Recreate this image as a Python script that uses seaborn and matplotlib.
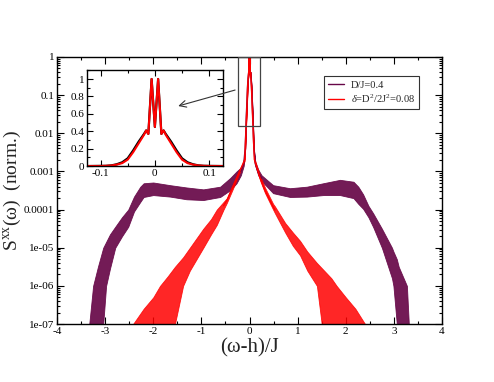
import numpy as np
import pandas as pd
import matplotlib
matplotlib.use('Agg')
import matplotlib.pyplot as plt
import seaborn as sns
from matplotlib.patches import Rectangle
from matplotlib.lines import Line2D
from matplotlib.ticker import FixedLocator, FixedFormatter, LogLocator, MultipleLocator, NullFormatter


# central peak, shared by both spectra (linear values)
peak_x = [-0.10, -0.09, -0.08, -0.07, -0.06, -0.05, -0.04, -0.03, -0.02, -0.016, -0.012, -0.006, 0.0,
          0.006, 0.012, 0.016, 0.02, 0.03, 0.04, 0.05, 0.06, 0.07, 0.08, 0.09, 0.10]
peak_red = [0.002, 0.004, 0.008, 0.018, 0.035, 0.075, 0.16, 0.26, 0.36, 0.41, 0.37, 1.0, 0.45,
            1.0, 0.37, 0.41, 0.36, 0.26, 0.16, 0.075, 0.035, 0.018, 0.008, 0.004, 0.002]
peak_black = [0.002, 0.004, 0.009, 0.022, 0.045, 0.09, 0.18, 0.28, 0.37, 0.41, 0.37, 1.0, 0.45,
              1.0, 0.37, 0.41, 0.37, 0.28, 0.18, 0.09, 0.045, 0.022, 0.009, 0.004, 0.002]

# D/J=0.4 : noise band, log10 of upper / lower edge
dj_left_x = [-3.36, -3.33, -3.25, -3.15, -3.04, -2.98, -2.90, -2.79, -2.65, -2.52, -2.40, -2.27,
             -2.20, -2.00, -1.65, -1.31, -0.96, -0.61, -0.40, -0.27, -0.18, -0.12]
dj_left_up = [-7.5, -7.0, -6.0, -5.5, -5.0, -4.85, -4.65, -4.45, -4.2, -4.0, -3.66, -3.40,
              -3.31, -3.29, -3.36, -3.42, -3.47, -3.40, -3.17, -3.00, -2.90, -2.75]
dj_left_lo = [-7.5, -7.5, -7.5, -7.5, -7.0, -6.0, -5.55, -5.0, -4.7, -4.45, -4.05, -3.80,
              -3.67, -3.62, -3.66, -3.73, -3.75, -3.67, -3.49, -3.31, -3.10, -2.85]
dj_right_x = [0.12, 0.18, 0.25, 0.49, 0.84, 1.19, 1.53, 1.88, 2.16, 2.26, 2.36, 2.47, 2.57,
              2.75, 2.96, 2.99, 3.06, 3.10, 3.27, 3.31, 3.34]
dj_right_up = [-2.75, -2.95, -3.10, -3.36, -3.44, -3.40, -3.31, -3.22, -3.27, -3.40, -3.60, -3.90, -4.10,
               -4.50, -5.0, -5.1, -5.3, -5.5, -6.0, -7.0, -7.5]
dj_right_lo = [-2.85, -3.10, -3.25, -3.57, -3.67, -3.66, -3.62, -3.62, -3.70, -3.85, -3.98, -4.20, -4.46,
               -5.0, -5.8, -6.0, -7.0, -7.5, -7.5, -7.5, -7.5]

# delta=0.08 : noise band, log10 of upper / lower edge
dl_left_x = [-2.45, -2.42, -2.20, -2.00, -1.86, -1.70, -1.55, -1.38, -1.24, -1.10, -0.96, -0.80,
             -0.68, -0.54, -0.47, -0.35, -0.23, -0.15, -0.10]
dl_left_up = [-7.5, -7.0, -6.6, -6.3, -6.0, -5.75, -5.5, -5.25, -5.0, -4.75, -4.5, -4.25,
              -4.0, -3.8, -3.7, -3.35, -3.02, -2.80, -2.65]
dl_left_lo = [-7.5, -7.5, -7.5, -7.5, -7.5, -7.5, -7.0, -6.0, -5.6, -5.3, -5.0, -4.65,
              -4.4, -4.0, -3.82, -3.47, -3.10, -2.88, -2.72]
dl_right_x = [0.10, 0.15, 0.23, 0.32, 0.49, 0.53, 0.74, 0.90, 1.05, 1.20, 1.40, 1.55, 1.70,
              1.81, 2.00, 2.20, 2.40, 2.43]
dl_right_up = [-2.65, -2.85, -3.15, -3.42, -3.85, -3.92, -4.35, -4.6, -4.82, -5.1, -5.4, -5.6, -5.8,
               -6.0, -6.3, -6.6, -7.0, -7.5]
dl_right_lo = [-2.72, -2.95, -3.27, -3.56, -4.0, -4.1, -4.6, -4.95, -5.2, -5.6, -6.0, -7.5, -7.5,
               -7.5, -7.5, -7.5, -7.5, -7.5]

labels = ['D/J=0.4', r'$\delta$=D$^2$/2J$^2$=0.08']
purple = '#670748'
red = '#ff0000'


def build(lx, lup, llo, px, pv, rx, rup, rlo):
    x = np.array(lx + px[1:-1] + rx)
    up = np.concatenate([10.0 ** np.array(lup), pv[1:-1], 10.0 ** np.array(rup)])
    lo = np.concatenate([10.0 ** np.array(llo), pv[1:-1], 10.0 ** np.array(rlo)])
    return pd.DataFrame({'x': x, 'up': up, 'lo': lo, 'mid': np.sqrt(up * lo)})


dj = build(dj_left_x, dj_left_up, dj_left_lo, peak_x, peak_black, dj_right_x, dj_right_up, dj_right_lo)
dl = build(dl_left_x, dl_left_up, dl_left_lo, peak_x, peak_red, dl_right_x, dl_right_up, dl_right_lo)
# the thin part of each curve (central peak) gets a plain line
dj_thin = dj[(dj['up'] / dj['lo'] < 1.6) & (dj['lo'] > 1e-5)]
dl_thin = dl[(dl['up'] / dl['lo'] < 1.6) & (dl['lo'] > 1e-5)]

sns.set_theme(style='ticks')
plt.rcParams['font.family'] = ['Liberation Serif', 'DejaVu Serif']
plt.rcParams['mathtext.fontset'] = 'custom'
plt.rcParams['mathtext.rm'] = 'Liberation Serif'
plt.rcParams['mathtext.it'] = 'Liberation Serif:italic'
plt.rcParams['axes.unicode_minus'] = False
plt.rcParams['axes.edgecolor'] = 'black'
plt.rcParams['xtick.color'] = 'black'
plt.rcParams['ytick.color'] = 'black'

fig = plt.figure(figsize=(4.94, 3.82), dpi=100)
ax = fig.add_axes([0.1154, 0.1518, 0.7794, 0.699])

ax.fill_between(dj['x'], dj['lo'], dj['up'], color=purple, lw=0.6, alpha=0.92)
sns.lineplot(data=dj_thin, x='x', y='mid', ax=ax, color=purple, lw=1.0, estimator=None, sort=False)
ax.fill_between(dl['x'], dl['lo'], dl['up'], color=red, lw=0.6, alpha=0.85)
sns.lineplot(data=dl_thin, x='x', y='mid', ax=ax, color=red, lw=1.0, estimator=None, sort=False)

ax.set_yscale('log')
ax.set_xlim(-4, 4)
ax.set_ylim(1e-7, 1)
ax.xaxis.set_major_locator(MultipleLocator(1))
ax.xaxis.set_minor_locator(MultipleLocator(0.5))
ax.xaxis.set_major_formatter(plt.FuncFormatter(lambda v, p: '%g' % v))
ax.yaxis.set_major_locator(FixedLocator([1e-7, 1e-6, 1e-5, 1e-4, 1e-3, 1e-2, 1e-1, 1]))
ax.yaxis.set_major_formatter(FixedFormatter(['1e-07', '1e-06', '1e-05', '0.0001', '0.001', '0.01', '0.1', '1']))
ax.yaxis.set_minor_locator(LogLocator(base=10, subs=np.arange(2, 10), numticks=20))
ax.yaxis.set_minor_formatter(NullFormatter())
ax.tick_params(which='both', direction='in', top=True, right=True, labelsize=8, width=0.8, pad=2)
ax.tick_params(which='major', length=5)
ax.tick_params(which='minor', length=2.5)
for s in ax.spines.values():
    s.set_linewidth(1.0)

ax.set_xlabel('(ω-h)/J', fontsize=15)
ax.set_ylabel('S$^{\\mathrm{xx}}$(ω)  (norm.)', fontsize=14)
ax.xaxis.set_label_coords(0.5, -0.055)
ax.yaxis.set_label_coords(-0.088, 0.5)

ax.add_patch(Rectangle((-0.23, 0.0155), 0.44, 1 - 0.0155, fill=False, ec='#444444', lw=0.9, zorder=5))

handles = [Line2D([], [], color=purple, lw=1.0), Line2D([], [], color=red, lw=1.0)]
leg = ax.legend(handles, labels, loc='upper left', bbox_to_anchor=(0.694, 0.929), borderaxespad=0,
                fontsize=7.6, frameon=True, fancybox=False, framealpha=1, edgecolor='#333333',
                handlelength=1.5, handletextpad=0.6, borderpad=0.4, labelspacing=0.25)
leg.get_frame().set_linewidth(0.8)

# inset
ins = fig.add_axes([0.176, 0.565, 0.275, 0.251])
sns.lineplot(data=dj, x='x', y='mid', ax=ins, color='black', lw=1.6, estimator=None, sort=False)
sns.lineplot(data=dl, x='x', y='mid', ax=ins, color=red, lw=1.5, estimator=None, sort=False)
ins.set_xlim(-0.125, 0.125)
ins.set_ylim(0, 1.1)
ins.set_xlabel('')
ins.set_ylabel('')
ins.xaxis.set_major_locator(FixedLocator([-0.1, 0, 0.1]))
ins.xaxis.set_minor_locator(MultipleLocator(0.05))
ins.xaxis.set_major_formatter(plt.FuncFormatter(lambda v, p: '%g' % v))
ins.yaxis.set_major_locator(MultipleLocator(0.2))
ins.yaxis.set_minor_locator(MultipleLocator(0.1))
ins.yaxis.set_major_formatter(plt.FuncFormatter(lambda v, p: '%g' % round(v, 2)))
ins.tick_params(which='both', direction='in', top=True, right=True, labelsize=8, width=0.8, pad=2)
ins.tick_params(which='major', length=4)
ins.tick_params(which='minor', length=2)
for s in ins.spines.values():
    s.set_linewidth(1.0)

ins.annotate('', xy=(0.043, 0.69), xytext=(-0.30, 0.136), textcoords=ax.transData,
             arrowprops=dict(arrowstyle='->', color='#333333', lw=0.8, shrinkA=0, shrinkB=0),
             annotation_clip=False)

fig.savefig('out.png', dpi=100)
